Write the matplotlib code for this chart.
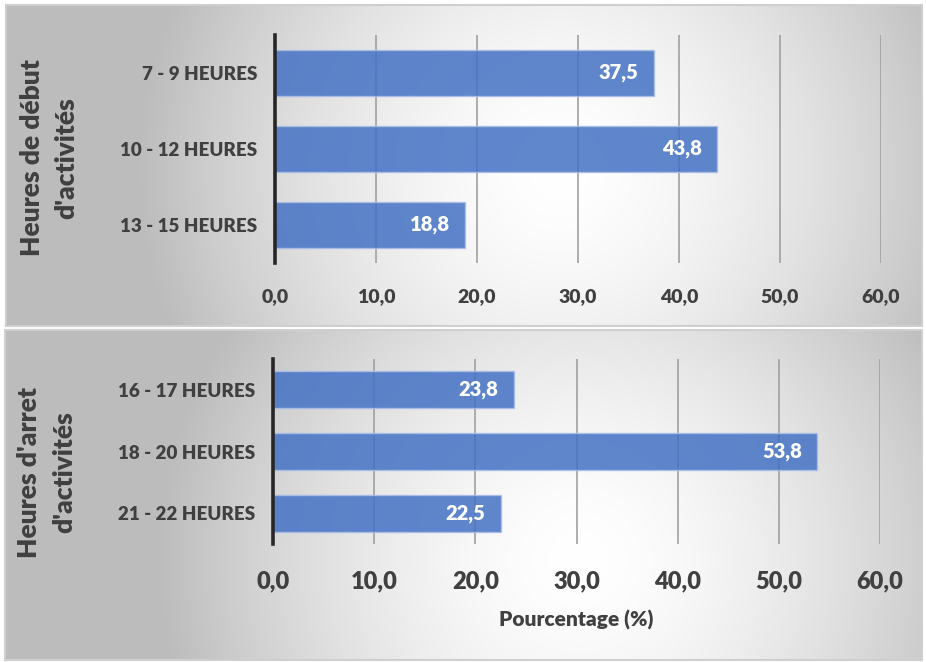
import numpy as np
import matplotlib.pyplot as plt

plt.rcParams['font.family'] = ['Lato', 'DejaVu Sans']
WT = 800

# start hours (top chart) and stop hours (bottom chart), in %
debut_labels = ["7 - 9 HEURES", "10 - 12 HEURES", "13 - 15 HEURES"]
debut_values = [37.5, 43.8, 18.8]
arret_labels = ["16 - 17 HEURES", "18 - 20 HEURES", "21 - 22 HEURES"]
arret_values = [23.8, 53.8, 22.5]
xticks = [0, 10, 20, 30, 40, 50, 60]

W, H = 926, 662
TXT = '#404040'
BAR = '#4472C4'

fig = plt.figure(figsize=(W / 100, H / 100), dpi=100)

# background panels with a radial grey gradient
bg = fig.add_axes([0, 0, 1, 1], zorder=-5)
bg.set_xlim(0, W)
bg.set_ylim(H, 0)
bg.axis('off')


def panel(x0, x1, y0, y1, cx, cy):
    xs = np.linspace(x0, x1, 400)
    ys = np.linspace(y0, y1, 200)
    X, Y = np.meshgrid(xs, ys)
    d = np.sqrt(((X - cx) / 420.0) ** 2 + ((Y - cy) / 420.0) ** 2)
    g = 1.0 - 0.26 * np.clip(d, 0, 1) ** 1.6
    img = np.dstack([g, g, g])
    bg.imshow(img, extent=[x0, x1, y1, y0], aspect='auto', interpolation='bilinear')
    bg.add_patch(plt.Rectangle((x0, y0), x1 - x0, y1 - y0, fill=False,
                               edgecolor='#CFCFCF', lw=1.5))


panel(6, 922, 5, 326, 560, 170)
panel(5, 922, 330, 660, 580, 560)


def make_axes(left, right, top, bottom):
    return fig.add_axes([left / W, 1 - bottom / H, (right - left) / W, (bottom - top) / H])


def draw(ax, labels, values, tick_size, label_size, xpad):
    y = np.arange(len(values))
    ax.set_facecolor('none')
    bars = ax.barh(y, values, height=0.6, color=BAR, alpha=0.85,
                   edgecolor='#A9BFE6', linewidth=1.0, zorder=3)
    for b, v in zip(bars, values):
        ax.text(v - 1.5, b.get_y() + b.get_height() / 2, f"{v:.1f}".replace('.', ','),
                ha='right', va='center', color='white', fontsize=label_size,
                fontweight=WT, zorder=4)
    ax.set_xlim(0, 60)
    ax.set_ylim(len(values) - 0.5, -0.5)
    ax.set_yticks(y)
    ax.set_yticklabels(labels, fontsize=13.5, color=TXT, fontweight=WT)
    ax.set_xticks(xticks)
    ax.set_xticklabels([f"{t:.1f}".replace('.', ',') for t in xticks],
                       fontsize=tick_size, color=TXT, fontweight=WT)
    ax.tick_params(axis='both', length=0)
    ax.tick_params(axis='y', pad=13)
    ax.tick_params(axis='x', pad=xpad)
    ax.grid(axis='x', color='#A0A0A0', lw=1.2, zorder=1)
    for s in ['top', 'right', 'bottom']:
        ax.spines[s].set_visible(False)
    ax.spines['left'].set_color('#262626')
    ax.spines['left'].set_linewidth(2.6)
    ax.spines['left'].set_zorder(5)


ax1 = make_axes(275, 881, 35, 263)
draw(ax1, debut_labels, debut_values, 14, 14.5, 18)

ax2 = make_axes(273, 880, 359, 544)
draw(ax2, arret_labels, arret_values, 17, 14.5, 19)
ax2.set_xlabel("Pourcentage (%)", fontsize=15, color=TXT, fontweight=WT, labelpad=13)

fig.text(32 / W, 1 - 158 / H, "Heures de début", rotation=90, ha='center', va='center',
         fontsize=19, color=TXT, fontweight=WT)
fig.text(66 / W, 1 - 158 / H, "d'activités", rotation=90, ha='center', va='center',
         fontsize=19, color=TXT, fontweight=WT)
fig.text(29 / W, 1 - 472 / H, "Heures d'arret", rotation=90, ha='center', va='center',
         fontsize=19, color=TXT, fontweight=WT)
fig.text(64 / W, 1 - 472 / H, "d'activités", rotation=90, ha='center', va='center',
         fontsize=19, color=TXT, fontweight=WT)

fig.savefig('out.png', dpi=100)
